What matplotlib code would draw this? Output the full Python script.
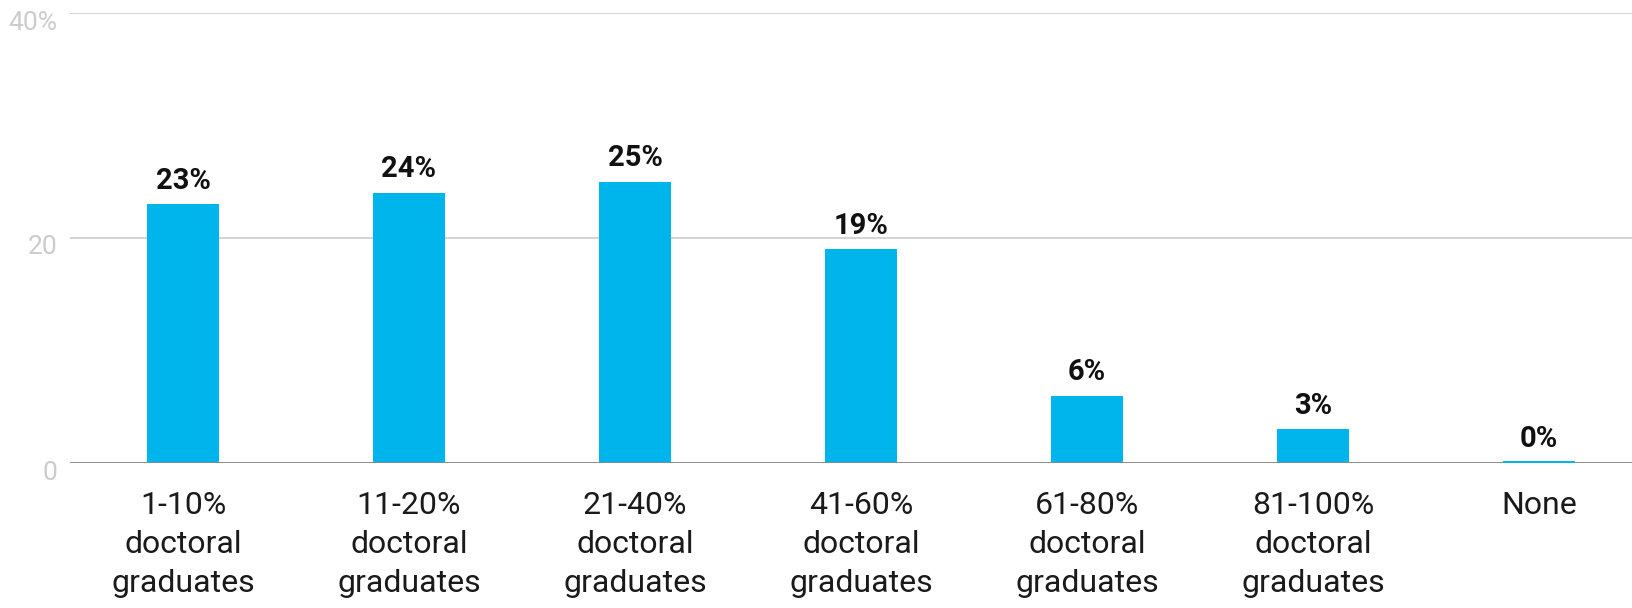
import matplotlib
matplotlib.use('Agg')
import matplotlib.pyplot as plt
from matplotlib.transforms import ScaledTranslation

# Data
categories = ["1-10%\ndoctoral\ngraduates", "11-20%\ndoctoral\ngraduates",
              "21-40%\ndoctoral\ngraduates", "41-60%\ndoctoral\ngraduates",
              "61-80%\ndoctoral\ngraduates", "81-100%\ndoctoral\ngraduates", "None"]
values = [23, 24, 25, 19, 6, 3, 0]
y_ticks = [0, 20, 40]
y_tick_labels = ["0", "20", "40%"]

BAR_COLOR = '#00b4ec'
plt.rcParams['font.family'] = ['Roboto', 'DejaVu Sans']

fig = plt.figure(figsize=(16.33, 6.08), dpi=100)
W, H = 1633, 608
# axes spans from x=70 px to beyond the right edge (bands are clipped there)
ax = fig.add_axes([70 / W, (H - 463) / H, (1652 - 70) / W, (463 - 13) / H])

x = list(range(len(categories)))
ax.bar(x, values, width=0.32, color=BAR_COLOR, zorder=2)
# the 0% bar still shows as a thin blue stroke
ax.bar(x, [0.15 if v == 0 else 0 for v in values], width=0.32,
       color=BAR_COLOR, zorder=4)

for xi, v in zip(x, values):
    ax.annotate(f"{v}%", (xi, v), xytext=(0, 7), textcoords='offset points',
                ha='center', va='bottom', fontsize=21, fontweight='bold',
                color='#111111', zorder=5)

ax.set_xlim(-0.5, 6.5)
ax.set_ylim(0, 40)

ax.set_yticks(y_ticks)
ax.set_yticklabels(y_tick_labels, fontsize=19, color='#cccccc')
ax.tick_params(axis='y', length=0, pad=9)
for lab in ax.get_yticklabels():
    lab.set_transform(lab.get_transform() +
                      ScaledTranslation(0, -7 / 100, fig.dpi_scale_trans))

ax.set_xticks(x)
ax.set_xticklabels(categories, fontsize=23, color='#1a1a1a', linespacing=1.45)
ax.tick_params(axis='x', length=0, pad=20)

ax.grid(axis='y', color='#cccccc', linewidth=1.2, zorder=0)
ax.axhline(0, color='#888888', linewidth=2, zorder=3)
for s in ax.spines.values():
    s.set_visible(False)

fig.savefig('out.png', dpi=100)
